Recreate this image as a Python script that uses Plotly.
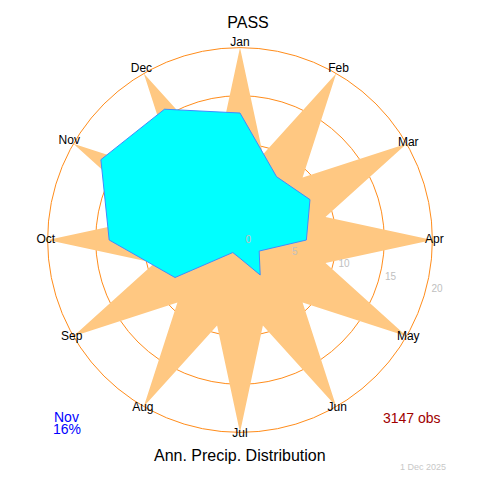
"""Annual precipitation rose for PASS, drawn with Plotly polar traces."""

import plotly.graph_objects as go

months = ["Jan", "Feb", "Mar", "Apr", "May", "Jun",
          "Jul", "Aug", "Sep", "Oct", "Nov", "Dec"]
precip_pct = [13.2, 7.6, 8.4, 6.9, 2.3, 4.2, 1.9, 1.5, 7.8, 13.6, 16.7, 15.7]
radial_ticks = [0, 5, 10, 15, 20]
star_peak = 20
star_notch = 9.2
n_obs = 3147
station = "PASS"
run_date = "1 Dec 2025"

month_theta = [i * 30 for i in range(12)]

# background compass star: peaks on the months, notches half way between
star_theta = [i * 15 for i in range(24)] + [0]
star_r = [star_peak if i % 2 == 0 else star_notch for i in range(24)] + [star_peak]

# the page body has an 8px margin, so lay the figure out 8px up/left
SHIFT = 8
RING_PX = 192            # pixel radius of the outer (20) ring
R_MAX = 21               # a little room beyond the ring for the month labels
CENTER = 240 - SHIFT
HALF = RING_PX * R_MAX / star_peak
M_LT = CENTER - HALF
M_RB = 480 - CENTER - HALF
PLOT = 2 * HALF


def px_x(x):
    # screen column -> paper x
    return (x - SHIFT - M_LT) / PLOT


def px_y(y):
    # screen row -> paper y
    return (480 - M_RB - (y - SHIFT)) / PLOT


fig = go.Figure()

fig.add_trace(go.Scatterpolar(
    r=star_r,
    theta=star_theta,
    mode="lines",
    fill="toself",
    fillcolor="#ffc882",
    line=dict(width=0, color="#ffc882"),
    hoverinfo="skip",
))

fig.add_trace(go.Scatterpolar(
    r=precip_pct + precip_pct[:1],
    theta=month_theta + month_theta[:1],
    mode="lines",
    fill="toself",
    fillcolor="#00ffff",
    line=dict(width=1, color="#3d8cff"),
    name="Precip",
))

# month labels sit on the outer ring, nudged up a touch at the top
fig.add_trace(go.Scatterpolar(
    r=[star_peak + 0.2 + 0.3 * (1 if t in (0, 30, 300, 330) else 0) for t in month_theta],
    theta=month_theta,
    mode="text",
    text=months,
    textfont=dict(size=12, color="black"),
    cliponaxis=False,
    hoverinfo="skip",
))

# radial tick labels along a slightly lowered spoke
fig.add_trace(go.Scatterpolar(
    r=radial_ticks,
    theta=[105] * len(radial_ticks),
    mode="text",
    text=["\u00a0\u00a0" + str(v) for v in radial_ticks],
    textposition="middle right",
    textfont=dict(size=10, color="#c0c0c0"),
    cliponaxis=False,
    hoverinfo="skip",
))

peak = max(range(12), key=lambda i: precip_pct[i])


def note(text, x, y, size, color):
    return dict(text=text, x=px_x(x), y=px_y(y), xref="paper", yref="paper",
                showarrow=False, xanchor="center", yanchor="middle",
                font=dict(size=size, color=color))


fig.update_layout(
    width=480,
    height=480,
    margin=dict(l=M_LT, r=M_RB, t=M_LT, b=M_RB, pad=0),
    paper_bgcolor="white",
    showlegend=False,
    font=dict(family="Liberation Sans, Arial, sans-serif", color="black"),
    title=dict(text=station, x=px_x(240), xanchor="center",
               y=1 - (22 - SHIFT) / 480, yanchor="middle", font=dict(size=16)),
    polar=dict(
        bgcolor="rgba(0,0,0,0)",
        radialaxis=dict(
            range=[0, R_MAX],
            tickvals=radial_ticks[1:],
            showticklabels=False,
            ticks="",
            showline=False,
            gridcolor="#ff8c1a",
            gridwidth=1.1,
            layer="above traces",
        ),
        angularaxis=dict(
            rotation=90,
            direction="clockwise",
            showticklabels=False,
            ticks="",
            showgrid=False,
            showline=False,
        ),
    ),
    annotations=[
        note("Ann. Precip. Distribution", 240, 455, 16, "black"),
        note(months[peak], 67, 417, 14, "#0000ff"),
        note(f"{int(precip_pct[peak])}%", 67, 429, 14, "#0000ff"),
        note(f"{n_obs} obs", 412, 418, 14, "#a00000"),
        note(run_date, 423, 467, 9, "#c8c8c8"),
    ],
)

fig.write_html("out.html")
